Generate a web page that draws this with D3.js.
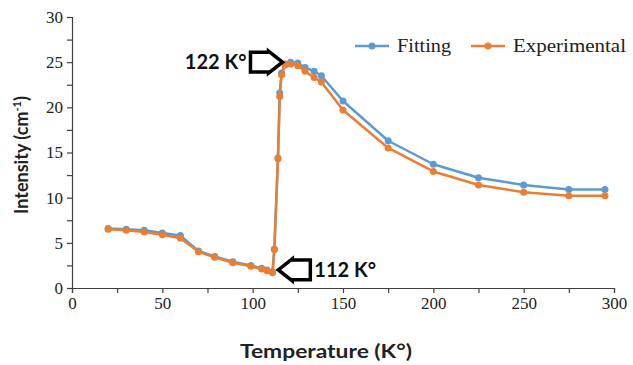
<!DOCTYPE html>
<html>
<head>
<meta charset="utf-8">
<script src="https://cdn.jsdelivr.net/npm/d3@7"></script>
<style>
  body { margin: 0; background: #fff; }
  svg { display: block; }
</style>
</head>
<body>
<svg id="chart"></svg>
<script>
var w = 633;
var h = 365;

// data
var temperature = [20, 30, 40, 50, 60, 70, 79, 89, 99, 105, 108, 111, 112, 114, 115, 116, 118, 121, 125, 129, 134, 138, 150, 175, 200, 225, 250, 275, 295];
var fitting = [6.6, 6.5, 6.4, 6.1, 5.8, 4.1, 3.5, 2.9, 2.5, 2.2, 2.0, 1.8, 4.3, 14.4, 21.6, 23.8, 24.8, 25.0, 24.9, 24.4, 24.0, 23.5, 20.7, 16.3, 13.7, 12.2, 11.4, 10.9, 10.9];
var experimental = [6.5, 6.4, 6.2, 5.9, 5.5, 4.0, 3.4, 2.8, 2.4, 2.1, 1.9, 1.7, 4.3, 14.3, 21.2, 23.6, 24.7, 24.8, 24.6, 24.0, 23.3, 22.8, 19.7, 15.5, 12.9, 11.4, 10.6, 10.2, 10.2];
var seriesNames = ["Fitting", "Experimental"];
var seriesColors = ["#5b9bd5", "#ed7d31"];
var notes = [
  {text: "122 K\u00b0", t: 116.5, v: 25.0, dir: "right"},
  {text: "112 K\u00b0", t: 114.2, v: 2.0, dir: "left"}
];

var svg = d3.select("#chart").attr("width", w).attr("height", h);

var x = d3.scaleLinear().domain([0, 300]).range([72, 614]);
var y = d3.scaleLinear().domain([0, 30]).range([288, 17]);

var axisColor = "#404040";
var serif = "'Liberation Serif', 'Times New Roman', serif";
var sans = "Lato, 'Open Sans', sans-serif";

// y axis, minor ticks every 2.5
var yAxis = svg.append("g")
  .attr("transform", "translate(" + x(0) + ",0)")
  .call(d3.axisLeft(y).tickValues(d3.range(0, 30.01, 2.5)).tickSize(5)
    .tickFormat(function(d) { return d % 5 == 0 ? d : ""; }));

// x axis, minor ticks every 25
var xAxis = svg.append("g")
  .attr("transform", "translate(0," + y(0) + ")")
  .call(d3.axisBottom(x).tickValues(d3.range(0, 300.01, 25)).tickSize(5)
    .tickFormat(function(d) { return d % 50 == 0 ? d : ""; }));

[xAxis, yAxis].forEach(function(a) {
  a.select(".domain").attr("stroke", axisColor).attr("stroke-width", 1.2);
  a.selectAll(".tick line").attr("stroke", axisColor).attr("stroke-width", 1.2);
  a.selectAll(".tick text")
    .attr("fill", "#222")
    .style("font-family", serif)
    .style("font-size", "17px");
});
yAxis.selectAll(".tick text").attr("x", -9);
xAxis.selectAll(".tick text").attr("y", 9);

// axis titles
svg.append("text")
  .text("Temperature (K\u00b0)")
  .attr("x", 326)
  .attr("y", 358)
  .attr("text-anchor", "middle")
  .attr("textLength", 172)
  .attr("lengthAdjust", "spacingAndGlyphs")
  .style("font-family", sans)
  .style("font-weight", "bold")
  .style("font-size", "19px")
  .attr("fill", "#222");

var yTitle = svg.append("text")
  .attr("transform", "translate(28,155) rotate(-90)")
  .attr("text-anchor", "middle")
  .style("font-family", sans)
  .style("font-weight", "bold")
  .style("font-size", "18px")
  .attr("fill", "#222");
yTitle.append("tspan").text("Intensity (cm");
yTitle.append("tspan").text("-1").attr("dy", -7).style("font-size", "11px");
yTitle.append("tspan").text(")").attr("dy", 7);

// lines + markers
var line = d3.line()
  .x(function(d) { return x(d[0]); })
  .y(function(d) { return y(d[1]); });

[fitting, experimental].forEach(function(vals, k) {
  var pts = temperature.map(function(t, i) { return [t, vals[i]]; });
  svg.append("path")
    .datum(pts)
    .attr("d", line)
    .attr("fill", "none")
    .attr("stroke", seriesColors[k])
    .attr("stroke-width", 2.5)
    .attr("stroke-linejoin", "round");
  svg.append("g")
    .selectAll("circle")
    .data(pts)
    .enter()
    .append("circle")
    .attr("cx", function(d) { return x(d[0]); })
    .attr("cy", function(d) { return y(d[1]); })
    .attr("r", 3.5)
    .attr("fill", seriesColors[k]);
});

// legend
var legend = svg.append("g");
var legX = [355, 471];
var legW = [54, 113];
seriesNames.forEach(function(name, k) {
  legend.append("line")
    .attr("x1", legX[k]).attr("x2", legX[k] + 34)
    .attr("y1", 46).attr("y2", 46)
    .attr("stroke", seriesColors[k]).attr("stroke-width", 2.5);
  legend.append("circle")
    .attr("cx", legX[k] + 17).attr("cy", 46).attr("r", 3.5)
    .attr("fill", seriesColors[k]);
  legend.append("text")
    .text(name)
    .attr("x", legX[k] + 42)
    .attr("y", 52)
    .attr("textLength", legW[k])
    .attr("lengthAdjust", "spacingAndGlyphs")
    .style("font-family", serif)
    .style("font-size", "18px")
    .attr("fill", "#222");
});

// block arrows with labels
function arrowPath(len, hh) {
  // arrow pointing right, tip at (0,0)
  var head = 14, shaft = hh * 0.45;
  return "M0,0 L" + (-head) + "," + (-hh / 2) + " L" + (-head) + "," + (-shaft) +
    " L" + (-len) + "," + (-shaft) + " L" + (-len) + "," + shaft +
    " L" + (-head) + "," + shaft + " L" + (-head) + "," + (hh / 2) + " Z";
}

notes.forEach(function(n) {
  var tx = x(n.t), ty = y(n.v);
  var g = svg.append("g")
    .attr("transform", "translate(" + tx + "," + ty + ")" + (n.dir == "left" ? " scale(-1,1)" : ""));
  g.append("path")
    .attr("d", arrowPath(32, 22))
    .attr("fill", "#fff")
    .attr("stroke", "#000")
    .attr("stroke-width", 3.5)
    .attr("stroke-linejoin", "miter");
  svg.append("text")
    .text(n.text)
    .attr("x", n.dir == "right" ? tx - 36 : tx + 36)
    .attr("y", ty + 7)
    .attr("text-anchor", n.dir == "right" ? "end" : "start")
    .style("font-family", sans)
    .style("font-weight", "bold")
    .style("font-size", "20px")
    .attr("fill", "#111");
});
</script>
</body>
</html>
